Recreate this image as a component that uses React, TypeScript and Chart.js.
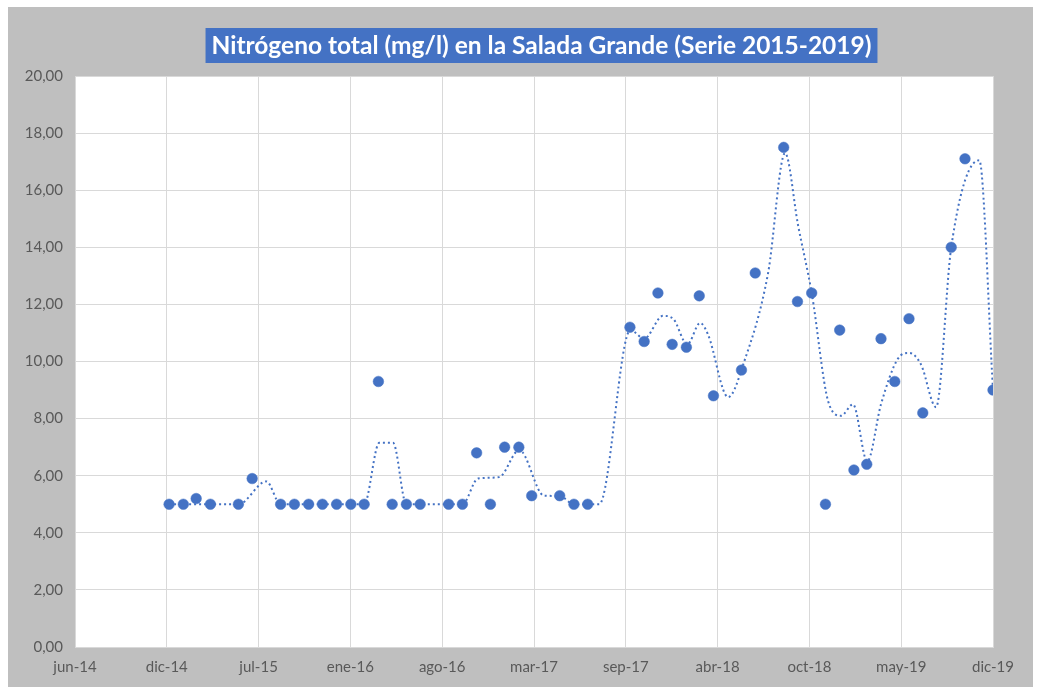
import React, { useEffect, useRef } from "react";
import { Chart, registerables } from "chart.js";

Chart.register(...registerables);

const TITLE = "Nitrógeno total (mg/l) en la Salada Grande (Serie 2015-2019)";

// Date axis: starts 10-jun-2014, major unit 200 days
const AXIS_START = "2014-06-10";
const AXIS_STEP_DAYS = 200;
const xTickLabels = ["jun-14", "dic-14", "jul-15", "ene-16", "ago-16", "mar-17", "sep-17", "abr-18", "oct-18", "may-19", "dic-19"];

const Y_MIN = 0;
const Y_MAX = 20;
const Y_STEP = 2;

// Monthly samples
const sampleDates = [
  "2015-01-01", "2015-02-01", "2015-03-01", "2015-04-01", "2015-06-01", "2015-07-01", "2015-09-01", "2015-10-01",
  "2015-11-01", "2015-12-01", "2016-01-01", "2016-02-01", "2016-03-01", "2016-04-01", "2016-05-01", "2016-06-01",
  "2016-07-01", "2016-09-01", "2016-10-01", "2016-11-01", "2016-12-01", "2017-01-01", "2017-02-01", "2017-03-01",
  "2017-05-01", "2017-06-01", "2017-07-01", "2017-10-01", "2017-11-01", "2017-12-01", "2018-01-01", "2018-02-01",
  "2018-03-01", "2018-04-01", "2018-06-01", "2018-07-01", "2018-09-01", "2018-10-01", "2018-11-01", "2018-12-01",
  "2019-01-01", "2019-02-01", "2019-03-01", "2019-04-01", "2019-05-01", "2019-06-01", "2019-07-01", "2019-09-01",
  "2019-10-01", "2019-12-01",
];
const nitrogenValues = [
  5.0, 5.0, 5.2, 5.0, 5.0, 5.9, 5.0, 5.0,
  5.0, 5.0, 5.0, 5.0, 5.0, 9.3, 5.0, 5.0,
  5.0, 5.0, 5.0, 6.8, 5.0, 7.0, 7.0, 5.3,
  5.3, 5.0, 5.0, 11.2, 10.7, 12.4, 10.6, 10.5,
  12.3, 8.8, 9.7, 13.1, 17.5, 12.1, 12.4, 5.0,
  11.1, 6.2, 6.4, 10.8, 9.3, 11.5, 8.2, 14.0,
  17.1, 9.0,
];

// Dotted trend line
const trendDates = [
  "2015-01-01", "2015-04-01", "2015-06-01", "2015-08-01", "2015-09-01", "2016-03-01", "2016-04-03", "2016-05-03",
  "2016-06-01", "2016-10-01", "2016-11-04", "2016-12-20", "2017-02-02", "2017-03-28", "2017-05-01", "2017-06-01",
  "2017-07-26", "2017-10-02", "2017-11-01", "2017-12-12", "2018-01-03", "2018-02-03", "2018-03-03", "2018-03-20",
  "2018-05-03", "2018-06-07", "2018-07-29", "2018-09-04", "2018-10-02", "2018-11-01", "2018-12-07", "2019-01-04",
  "2019-01-30", "2019-03-02", "2019-04-01", "2019-05-08", "2019-06-01", "2019-06-27", "2019-07-30", "2019-09-01",
  "2019-11-01", "2019-12-01",
];
const trendValues = [
  5.0, 5.0, 5.0, 5.8, 5.0, 5.0, 7.15, 7.15,
  5.0, 5.0, 5.9, 5.95, 6.9, 5.3, 5.29, 5.0,
  5.0, 11.1, 10.8, 11.6, 11.5, 10.6, 11.35, 10.95,
  8.75, 10.0, 13.1, 17.3, 14.8, 12.4, 8.6, 8.1,
  8.5, 6.5, 8.5, 10.1, 10.3, 9.9, 8.4, 14.0,
  17.05, 9.0,
];

const MARKER_COLOR = "#4472C4";
const TREND_COLOR = "#4472C4";
const GRID_COLOR = "#D9D9D9";
const LABEL_COLOR = "#595959";
const OUTER_BG = "#BFBFBF";
const FONT = "Lato, 'Open Sans', sans-serif";

const dayOffset = (d: string) => (Date.parse(d) - Date.parse(AXIS_START)) / 86400000;

const framePlugin = {
  id: "frame",
  beforeDraw(chart: any) {
    const { ctx, chartArea: a } = chart;
    ctx.save();
    ctx.fillStyle = OUTER_BG;
    ctx.fillRect(0, 0, chart.width, chart.height);
    ctx.fillStyle = "#FFFFFF";
    ctx.fillRect(a.left, a.top, a.right - a.left, a.bottom - a.top);

    ctx.font = `bold 24.5px ${FONT}`;
    const w = ctx.measureText(TITLE).width;
    const cx = chart.width / 2 + 21;
    const cy = 38.5;
    ctx.fillStyle = "#4472C4";
    ctx.fillRect(cx - w / 2 - 6, cy - 17.5, w + 12, 35);
    ctx.fillStyle = "#FFFFFF";
    ctx.textAlign = "center";
    ctx.textBaseline = "middle";
    ctx.fillText(TITLE, cx, cy + 1);
    ctx.restore();
  },
};

export default function App() {
  const canvasRef = useRef<HTMLCanvasElement | null>(null);

  useEffect(() => {
    if (!canvasRef.current) return;
    const points = sampleDates.map((d, i) => ({ x: dayOffset(d), y: nitrogenValues[i] }));
    const trend = trendDates.map((d, i) => ({ x: dayOffset(d), y: trendValues[i] }));

    const chart = new Chart(canvasRef.current, {
      type: "scatter",
      data: {
        datasets: [
          {
            label: "Nitrógeno total (mg/l)",
            data: points,
            pointRadius: 5.3,
            pointHoverRadius: 5.3,
            pointBackgroundColor: MARKER_COLOR,
            pointBorderColor: MARKER_COLOR,
            pointBorderWidth: 0.5,
            showLine: false,
          },
          {
            label: "Tendencia",
            data: trend,
            showLine: true,
            pointRadius: 0,
            borderColor: TREND_COLOR,
            borderWidth: 2,
            borderDash: [2, 3],
            cubicInterpolationMode: "monotone",
            fill: false,
          },
        ],
      },
      options: {
        animation: false,
        responsive: false,
        layout: { padding: { top: 69, right: 40, bottom: 0, left: 0 } },
        plugins: {
          legend: { display: false },
          title: { display: false },
          tooltip: { enabled: false },
        },
        scales: {
          x: {
            type: "linear",
            min: 0,
            max: AXIS_STEP_DAYS * (xTickLabels.length - 1),
            afterFit: (s: any) => {
              s.height = 40;
            },
            ticks: {
              stepSize: AXIS_STEP_DAYS,
              autoSkip: false,
              maxRotation: 0,
              color: LABEL_COLOR,
              font: { family: FONT, size: 15 },
              padding: 11,
              callback: (_v: any, i: number) => xTickLabels[i],
            },
            grid: { color: GRID_COLOR, drawTicks: false },
            border: { color: GRID_COLOR },
          },
          y: {
            min: Y_MIN,
            max: Y_MAX,
            afterFit: (s: any) => {
              s.width = 67;
            },
            ticks: {
              stepSize: Y_STEP,
              color: LABEL_COLOR,
              font: { family: FONT, size: 15 },
              padding: 12,
              callback: (v: any) => Number(v).toFixed(2).replace(".", ","),
            },
            grid: { color: GRID_COLOR, drawTicks: false },
            border: { color: GRID_COLOR },
          },
        },
      },
      plugins: [framePlugin],
    });
    return () => chart.destroy();
  }, []);

  return (
    <div style={{ position: "fixed", left: 8, top: 7, width: 1025, height: 680 }}>
      <canvas ref={canvasRef} width={1025} height={680} />
    </div>
  );
}
